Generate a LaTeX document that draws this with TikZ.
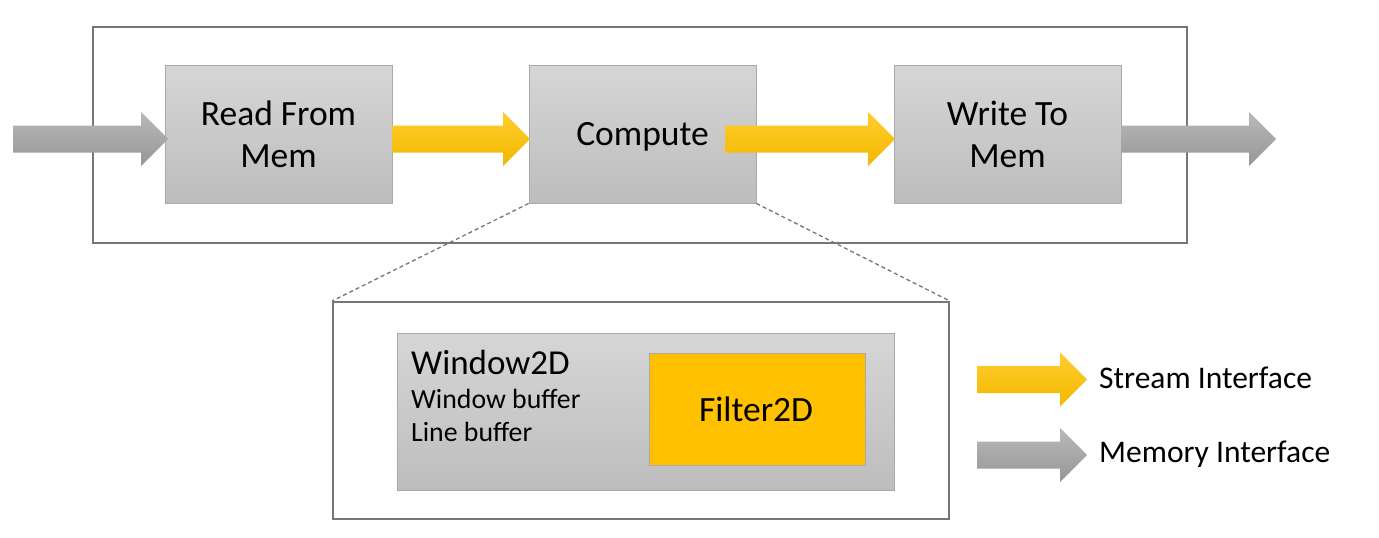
\documentclass[tikz,border=0pt]{standalone}
\usepackage{fontspec}
\setmainfont{Carlito}
\definecolor{boxtop}{HTML}{D6D6D6}
\definecolor{boxbot}{HTML}{BDBDBD}
\definecolor{boxline}{HTML}{A9A9A9}
\definecolor{framec}{HTML}{767676}
\definecolor{gtop}{HTML}{B9B9B9}
\definecolor{gbot}{HTML}{969696}
\definecolor{ytop}{HTML}{FFCD2E}
\definecolor{ybot}{HTML}{F2B800}
\definecolor{filt}{HTML}{FFC000}
\newcommand{\fatarrow}[4]{% start x, tip x, centre y, style
  \shade[#4] (#1,#3-13.5) -- (#2-27,#3-13.5) -- (#2-27,#3-27) -- (#2,#3)
    -- (#2-27,#3+27) -- (#2-27,#3+13.5) -- (#1,#3+13.5) -- cycle;}
\tikzset{
  frame/.style={draw=framec, line width=1.8pt},
  block/.style={draw=boxline, line width=1pt, top color=boxtop, bottom color=boxbot,
    inner sep=0pt, align=center, minimum width=227pt, minimum height=138pt,
    text depth=0pt, font=\fontsize{35.5}{42}\selectfont},
  memarrow/.style={top color=gtop, bottom color=gbot, draw=none},
  strarrow/.style={top color=ytop, bottom color=ybot, draw=none},
  zoomline/.style={draw=framec, line width=1.3pt, dash pattern=on 4pt off 3pt},
  legendtext/.style={anchor=base west, inner sep=0pt, font=\fontsize{31.5}{38}\selectfont},
  inner/.style={anchor=base west, inner sep=0pt},
}
\begin{document}
\begin{tikzpicture}[x=1pt, y=-1pt]
\useasboundingbox (0,0) rectangle (1379,538);
% top frame
\draw[frame] (93,27) rectangle (1187,243);
% blocks
\node[block] (read) at (278.5,134) {Read From\\Mem};
\node[block] (comp) at (642.5,134) {Compute};
\node[block] (write) at (1007.5,134) {Write To\\Mem};
% lower frame
\node[frame, inner sep=0pt, minimum width=616pt, minimum height=217pt, anchor=north west] (low) at (332,301) {};
\draw[zoomline] (comp.south west) -- (low.north west);
\draw[zoomline] (comp.south east) -- (low.north east);
% window2D
\node[draw=boxline, line width=1pt, top color=boxtop, bottom color=boxbot, inner sep=0pt,
  minimum width=497pt, minimum height=157pt, anchor=north west] (win) at (397,333) {};
\node[inner, font=\fontsize{35}{40}\selectfont] (wtitle) at (411,374) {Window2D};
\node[inner, font=\fontsize{27.8}{33}\selectfont] (wbuf) at (411,408) {Window buffer};
\node[inner, font=\fontsize{27.8}{33}\selectfont] (lbuf) at (411,441.5) {Line buffer};
\node[draw=boxline, line width=1pt, fill=filt, inner sep=0pt, minimum width=216pt,
  minimum height=112pt, anchor=north west] (filt) at (649,353) {};
\node[font=\fontsize{35.5}{40}\selectfont, inner sep=0pt, anchor=base] (ftext) at (756,421) {Filter2D};
% arrows
\fatarrow{13}{168}{139}{memarrow}
\fatarrow{392}{530}{139}{strarrow}
\fatarrow{725}{895}{139}{strarrow}
\fatarrow{1121}{1276}{139}{memarrow}
% legend
\fatarrow{977}{1087}{379.5}{strarrow}
\fatarrow{977}{1087}{455}{memarrow}
\node[legendtext] (lstr) at (1099,388) {Stream Interface};
\node[legendtext] (lmem) at (1099,462) {Memory Interface};
\end{tikzpicture}
\end{document}
